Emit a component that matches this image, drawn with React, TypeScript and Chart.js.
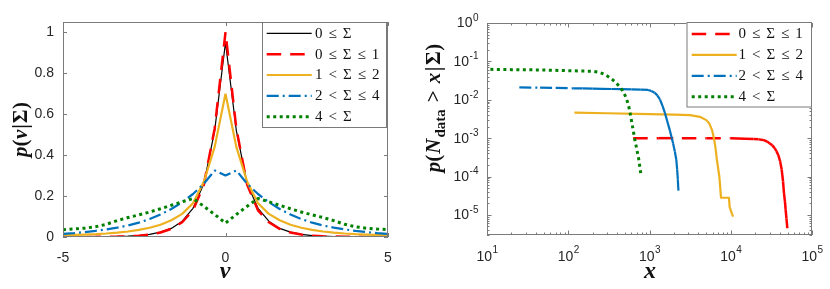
import React, { useEffect, useRef } from 'react';
import { Chart, registerables } from 'chart.js';
Chart.register(...registerables);

// ---------- Left panel data: p(nu | Sigma) ----------
const NU = [-5, -4.667, -4.333, -4, -3.667, -3.333, -3, -2.667, -2.333, -2, -1.667, -1.333, -1, -0.667, -0.333, 0, 0.333, 0.667, 1, 1.333, 1.667, 2, 2.333, 2.667, 3, 3.333, 3.667, 4, 4.333, 4.667, 5];
const P_ALL = [0.0004, 0.0005, 0.0007, 0.001, 0.0015, 0.0025, 0.004, 0.007, 0.013, 0.024, 0.042, 0.077, 0.14, 0.26, 0.52, 0.95, 0.52, 0.26, 0.14, 0.077, 0.042, 0.024, 0.013, 0.007, 0.004, 0.0025, 0.0015, 0.001, 0.0007, 0.0005, 0.0004];
const P_S01 = [0.0002, 0.0003, 0.0005, 0.0008, 0.0012, 0.002, 0.0035, 0.0065, 0.012, 0.022, 0.04, 0.072, 0.13, 0.255, 0.53, 1.0, 0.53, 0.255, 0.13, 0.072, 0.04, 0.022, 0.012, 0.0065, 0.0035, 0.002, 0.0012, 0.0008, 0.0005, 0.0003, 0.0002];
const P_S12 = [0.008, 0.01, 0.012, 0.014, 0.017, 0.021, 0.027, 0.035, 0.045, 0.06, 0.082, 0.113, 0.165, 0.27, 0.44, 0.70, 0.44, 0.27, 0.165, 0.113, 0.082, 0.06, 0.045, 0.035, 0.027, 0.021, 0.017, 0.014, 0.012, 0.01, 0.008];
const P_S24 = [0.015, 0.019, 0.024, 0.03, 0.037, 0.046, 0.056, 0.07, 0.088, 0.11, 0.137, 0.17, 0.21, 0.26, 0.325, 0.30, 0.325, 0.26, 0.21, 0.17, 0.137, 0.11, 0.088, 0.07, 0.056, 0.046, 0.037, 0.03, 0.024, 0.019, 0.015];
const P_S4 = [0.036, 0.039, 0.043, 0.05, 0.062, 0.08, 0.095, 0.108, 0.122, 0.138, 0.155, 0.172, 0.188, 0.15, 0.11, 0.068, 0.11, 0.15, 0.188, 0.172, 0.155, 0.138, 0.122, 0.108, 0.095, 0.08, 0.062, 0.05, 0.043, 0.039, 0.036];
const LEFT_X_TICKS = [-5, 0, 5];
const LEFT_Y_TICKS = [0, 0.2, 0.4, 0.6, 0.8, 1];

// ---------- Right panel data: p(N_data > x | Sigma) ----------
const RED_X = [630, 1300, 2500, 5000, 10000, 15000, 19000, 22000, 25000, 28000, 30000, 32500, 34700, 36500, 38500, 40500, 42400, 44000, 45200, 46500, 47400, 48500, 49700];
const RED_Y = [1.0e-3, 1.0e-3, 1.0e-3, 1.0e-3, 0.99e-3, 0.97e-3, 0.95e-3, 0.93e-3, 0.9e-3, 0.82e-3, 0.74e-3, 0.65e-3, 0.55e-3, 0.46e-3, 0.36e-3, 0.25e-3, 0.15e-3, 0.075e-3, 0.037e-3, 0.022e-3, 0.0135e-3, 0.008e-3, 0.0045e-3];
const ORANGE_X = [119, 300, 1000, 2000, 3160, 4170, 5010, 5450, 5890, 6200, 6460, 6760, 7240, 7590, 9500, 9700, 10300, 10700];
const ORANGE_Y = [4.6e-3, 4.45e-3, 4.25e-3, 4.1e-3, 4.0e-3, 3.6e-3, 2.95e-3, 2.4e-3, 1.62e-3, 1.0e-3, 6e-4, 2.7e-4, 1.0e-4, 2.8e-5, 2.8e-5, 1.6e-5, 1.1e-5, 9e-6];
const BLUE_X = [25, 45, 70, 115, 150, 200, 260, 340, 450, 600, 780, 960, 1050, 1150, 1250, 1350, 1450, 1550, 1650, 1780, 1880, 1950, 2050, 2140, 2190, 2230, 2270];
const BLUE_Y = [0.021, 0.0207, 0.0203, 0.0199, 0.0197, 0.0195, 0.0193, 0.0191, 0.0189, 0.0187, 0.0184, 0.018, 0.017, 0.0155, 0.013, 0.010, 0.0068, 0.0045, 0.0028, 0.0016, 0.0010, 0.00074, 0.00045, 0.00027, 0.00015, 0.000085, 0.000043];
const GREEN_X = [11, 20, 40, 80, 150, 200, 240, 280, 330, 380, 420, 460, 500, 530, 560, 590, 630, 660, 700, 740, 780];
const GREEN_Y = [0.062, 0.061, 0.06, 0.058, 0.056, 0.055, 0.052, 0.046, 0.037, 0.029, 0.023, 0.018, 0.013, 0.0095, 0.0062, 0.0035, 0.0016, 0.0009, 0.0005, 0.00027, 0.00012];
const RIGHT_X_EXPS = [1, 2, 3, 4, 5];
const RIGHT_Y_EXPS = [0, -1, -2, -3, -4, -5];

const LABELS_LEFT = ['0 ≤ Σ', '0 ≤ Σ ≤ 1', '1 < Σ ≤ 2', '2 < Σ ≤ 4', '4 < Σ'];
const LABELS_RIGHT = ['0 ≤ Σ ≤ 1', '1 < Σ ≤ 2', '2 < Σ ≤ 4', '4 < Σ'];

const C_BLACK = '#000000';
const C_RED = '#ff0000';
const C_ORANGE = '#EDB120';
const C_BLUE = '#0072BD';
const C_GREEN = '#008000';
const AXIS_COLOR = '#7a7a7a';
const TEXT_COLOR = '#262626';
const SANS = '"Liberation Sans", Arial, sans-serif';
const SERIF = '"Liberation Serif", "Times New Roman", serif';

const pts = (xs: number[], ys: number[]) => xs.map((x, i) => ({ x, y: ys[i] }));

type Run = { t: string; font: string; dy?: number; after?: number };

function drawRich(ctx: CanvasRenderingContext2D, runs: Run[], cx: number, cy: number, rot: boolean) {
  ctx.save();
  ctx.translate(cx, cy);
  if (rot) ctx.rotate(-Math.PI / 2);
  ctx.textAlign = 'left';
  ctx.textBaseline = 'alphabetic';
  ctx.fillStyle = '#111';
  let total = 0;
  const ws = runs.map((r) => {
    ctx.font = r.font;
    const w = ctx.measureText(r.t).width + (r.after || 0);
    total += w;
    return w;
  });
  let x = -total / 2;
  runs.forEach((r, i) => {
    ctx.font = r.font;
    ctx.fillText(r.t, x, r.dy || 0);
    x += ws[i];
  });
  ctx.restore();
}

function drawFrame(ctx: CanvasRenderingContext2D, a: any) {
  ctx.save();
  ctx.strokeStyle = AXIS_COLOR;
  ctx.lineWidth = 1;
  ctx.setLineDash([]);
  ctx.strokeRect(a.left + 0.5, a.top + 0.5, a.right - a.left - 1, a.bottom - a.top - 1);
  ctx.restore();
}

function tickX(ctx: CanvasRenderingContext2D, a: any, px: number, len: number) {
  const x = Math.round(px) + 0.5;
  ctx.beginPath();
  ctx.moveTo(x, a.bottom);
  ctx.lineTo(x, a.bottom - len);
  ctx.moveTo(x, a.top);
  ctx.lineTo(x, a.top + len);
  ctx.stroke();
}
function tickY(ctx: CanvasRenderingContext2D, a: any, py: number, len: number) {
  const y = Math.round(py) + 0.5;
  ctx.beginPath();
  ctx.moveTo(a.left, y);
  ctx.lineTo(a.left + len, y);
  ctx.moveTo(a.right, y);
  ctx.lineTo(a.right - len, y);
  ctx.stroke();
}

type LegendBox = { x0: number; y0: number; x1: number; y1: number; rowY0: number; rowStep: number; lx0: number; lx1: number; tx: number; labels: string[] };

function drawLegend(ctx: CanvasRenderingContext2D, chart: any, L: LegendBox) {
  ctx.save();
  ctx.fillStyle = '#fff';
  ctx.fillRect(L.x0, L.y0, L.x1 - L.x0, L.y1 - L.y0);
  ctx.strokeStyle = AXIS_COLOR;
  ctx.lineWidth = 1;
  ctx.strokeRect(L.x0 + 0.5, L.y0 + 0.5, L.x1 - L.x0 - 1, L.y1 - L.y0 - 1);
  chart.data.datasets.forEach((ds: any, i: number) => {
    const y = L.rowY0 + i * L.rowStep;
    ctx.strokeStyle = ds.borderColor;
    ctx.lineWidth = ds.borderWidth;
    ctx.lineCap = 'butt';
    ctx.setLineDash(ds.borderDash || []);
    ctx.beginPath();
    ctx.moveTo(L.lx0, y);
    ctx.lineTo(L.lx1, y);
    ctx.stroke();
    ctx.setLineDash([]);
    ctx.fillStyle = '#111';
    ctx.font = `15px ${SERIF}`;
    ctx.textBaseline = 'middle';
    ctx.textAlign = 'left';
    let x = L.tx;
    L.labels[i].split(' ').forEach((tok) => {
      ctx.fillText(tok, x, y + 0.5);
      x += ctx.measureText(tok).width + 6;
    });
  });
  ctx.restore();
}

const BI = (s: number) => `italic bold ${s}px ${SERIF}`;
const B = (s: number) => `bold ${s}px ${SERIF}`;

const leftDecor = {
  id: 'leftDecor',
  afterDatasetsDraw(chart: any) {
    const ctx = chart.ctx as CanvasRenderingContext2D;
    const a = chart.chartArea;
    drawFrame(ctx, a);
    ctx.save();
    ctx.strokeStyle = AXIS_COLOR;
    ctx.lineWidth = 1;
    LEFT_X_TICKS.forEach((v) => tickX(ctx, a, chart.scales.x.getPixelForValue(v), 4));
    LEFT_Y_TICKS.forEach((v) => tickY(ctx, a, chart.scales.y.getPixelForValue(v), 4));
    ctx.restore();
    drawLegend(ctx, chart, { x0: 262, y0: 22, x1: 387, y1: 128, rowY0: 33.3, rowStep: 20.85, lx0: 266.7, lx1: 311.7, tx: 315, labels: LABELS_LEFT });
    drawRich(ctx, [
      { t: 'p', font: BI(21) }, { t: '(', font: B(21), after: 0.5 }, { t: 'ν', font: BI(21), after: 1 },
      { t: '|', font: B(21), after: 1 }, { t: 'Σ', font: B(21), after: 0.5 }, { t: ')', font: B(21) },
    ], 27, 129.5, true);
    drawRich(ctx, [{ t: 'ν', font: BI(24) }], 225, 278, false);
  },
};

const rightDecor = {
  id: 'rightDecor',
  afterDatasetsDraw(chart: any) {
    const ctx = chart.ctx as CanvasRenderingContext2D;
    const a = chart.chartArea;
    const xs = chart.scales.x;
    const ys = chart.scales.y;
    drawFrame(ctx, a);
    ctx.save();
    ctx.strokeStyle = AXIS_COLOR;
    ctx.lineWidth = 1;
    for (let k = 1; k <= 4; k++) {
      for (let m = 1; m <= 9; m++) {
        const v = m * Math.pow(10, k);
        tickX(ctx, a, xs.getPixelForValue(v), m === 1 ? 4.5 : 2.5);
      }
    }
    tickX(ctx, a, xs.getPixelForValue(1e5), 4.5);
    for (let k = -6; k <= -1; k++) {
      for (let m = 1; m <= 9; m++) {
        const v = m * Math.pow(10, k);
        if (v < ys.min || v > ys.max) continue;
        tickY(ctx, a, ys.getPixelForValue(v), m === 1 ? 4.5 : 2.5);
      }
    }
    tickY(ctx, a, ys.getPixelForValue(1), 4.5);
    ctx.restore();

    // tick labels 10^k
    ctx.save();
    ctx.fillStyle = TEXT_COLOR;
    ctx.textBaseline = 'middle';
    ctx.textAlign = 'left';
    const baseFont = `14px ${SANS}`;
    const expFont = `10px ${SANS}`;
    RIGHT_X_EXPS.forEach((e) => {
      const px = xs.getPixelForValue(Math.pow(10, e));
      ctx.font = baseFont;
      const w1 = ctx.measureText('10').width;
      ctx.font = expFont;
      const w2 = ctx.measureText(String(e)).width;
      const x0 = px - (w1 + w2) / 2;
      ctx.font = baseFont;
      ctx.fillText('10', x0, 257);
      ctx.font = expFont;
      ctx.fillText(String(e), x0 + w1 + 0.5, 250.5);
    });
    RIGHT_Y_EXPS.forEach((e) => {
      const py = ys.getPixelForValue(Math.pow(10, e));
      const s = String(e);
      ctx.font = expFont;
      const w2 = ctx.measureText(s).width;
      const right = a.left - 8.5;
      ctx.fillText(s, right - w2, py - 5);
      ctx.font = baseFont;
      const w1 = ctx.measureText('10').width;
      ctx.fillText('10', right - w2 - w1 - 0.5, py + 0.5);
    });
    ctx.restore();

    drawLegend(ctx, chart, { x0: 271.5, y0: 22, x1: a.right, y1: 107.5, rowY0: 34, rowStep: 20.9, lx0: 276.7, lx1: 321.7, tx: 323.5, labels: LABELS_RIGHT });
    drawRich(ctx, [
      { t: 'p', font: BI(21) }, { t: '(', font: B(21), after: 1 }, { t: 'N', font: BI(21), after: 1 },
      { t: 'data', font: B(15), dy: 5, after: 7 }, { t: '>', font: B(21), after: 7 },
      { t: 'x', font: BI(21), after: 1.5 }, { t: '|', font: B(21), after: 1.5 }, { t: 'Σ', font: B(21), after: 0.5 }, { t: ')', font: B(21) },
    ], 25, 108, true);
    drawRich(ctx, [{ t: 'x', font: BI(24) }], 650 - 415, 278, false);
  },
};

const restartDash = { borderDashOffset: (c: any) => (c.p0DataIndex % 2) * 0.001 };

function leftConfig(): any {
  return {
    type: 'line',
    data: {
      datasets: [
        { label: LABELS_LEFT[0], data: pts(NU, P_ALL), borderColor: C_BLACK, borderWidth: 1.2, order: 5 },
        { label: LABELS_LEFT[1], data: pts(NU, P_S01), borderColor: C_RED, borderWidth: 2.5, borderDash: [14.5, 9], order: 4 },
        { label: LABELS_LEFT[2], data: pts(NU, P_S12), borderColor: C_ORANGE, borderWidth: 2.2, order: 3 },
        { label: LABELS_LEFT[3], data: pts(NU, P_S24), borderColor: C_BLUE, borderWidth: 2.2, borderDash: [12, 4, 2, 4], order: 2 },
        { label: LABELS_LEFT[4], data: pts(NU, P_S4), borderColor: C_GREEN, borderWidth: 3, borderDash: [3, 3.5], order: 1 },
      ],
    },
    options: {
      responsive: false,
      animation: false,
      events: [],
      layout: { padding: { left: 0, top: 22, right: 27, bottom: 0 } },
      elements: { point: { radius: 0 }, line: { tension: 0, fill: false, borderCapStyle: 'butt', borderJoinStyle: 'bevel' } },
      plugins: { legend: { display: false }, tooltip: { enabled: false } },
      scales: {
        x: {
          type: 'linear', min: -5, max: 5,
          grid: { display: false, drawTicks: false }, border: { display: false },
          ticks: { font: { family: SANS, size: 14 }, color: TEXT_COLOR, padding: 13, maxRotation: 0 },
          afterBuildTicks: (s: any) => { s.ticks = LEFT_X_TICKS.map((v) => ({ value: v })); },
          afterFit: (s: any) => { s.height = 52; },
        },
        y: {
          type: 'linear', min: 0, max: 1.05,
          grid: { display: false, drawTicks: false }, border: { display: false },
          ticks: { font: { family: SANS, size: 14 }, color: TEXT_COLOR, padding: 9, callback: (v: number) => String(Math.round(v * 10) / 10) },
          afterBuildTicks: (s: any) => { s.ticks = LEFT_Y_TICKS.map((v) => ({ value: v })); },
          afterFit: (s: any) => { s.width = 63; },
        },
      },
    },
    plugins: [leftDecor],
  };
}

function rightConfig(): any {
  return {
    type: 'line',
    data: {
      datasets: [
        { label: LABELS_RIGHT[0], data: pts(RED_X, RED_Y), borderColor: C_RED, borderWidth: 2.5, borderDash: [14.5, 9], segment: restartDash, order: 4 },
        { label: LABELS_RIGHT[1], data: pts(ORANGE_X, ORANGE_Y), borderColor: C_ORANGE, borderWidth: 2.2, order: 3 },
        { label: LABELS_RIGHT[2], data: pts(BLUE_X, BLUE_Y), borderColor: C_BLUE, borderWidth: 2.2, borderDash: [12, 4, 2, 4], segment: restartDash, order: 2 },
        { label: LABELS_RIGHT[3], data: pts(GREEN_X, GREEN_Y), borderColor: C_GREEN, borderWidth: 3, borderDash: [3, 3.5], order: 1 },
      ],
    },
    options: {
      responsive: false,
      animation: false,
      events: [],
      layout: { padding: { left: 0, top: 23, right: 18, bottom: 0 } },
      elements: { point: { radius: 0 }, line: { tension: 0, fill: false, borderCapStyle: 'butt', borderJoinStyle: 'round' } },
      plugins: { legend: { display: false }, tooltip: { enabled: false } },
      scales: {
        x: {
          type: 'logarithmic', min: 10, max: 1e5,
          grid: { display: false, drawTicks: false }, border: { display: false },
          ticks: { display: false },
          afterFit: (s: any) => { s.height = 54; },
        },
        y: {
          type: 'logarithmic', min: 3e-6, max: 1,
          grid: { display: false, drawTicks: false }, border: { display: false },
          ticks: { display: false },
          afterFit: (s: any) => { s.width = 72; },
        },
      },
    },
    plugins: [rightDecor],
  };
}

export default function App() {
  const leftRef = useRef<HTMLCanvasElement>(null);
  const rightRef = useRef<HTMLCanvasElement>(null);
  useEffect(() => {
    const c1 = new Chart(leftRef.current as HTMLCanvasElement, leftConfig());
    const c2 = new Chart(rightRef.current as HTMLCanvasElement, rightConfig());
    return () => {
      c1.destroy();
      c2.destroy();
    };
  }, []);
  return (
    <div style={{ position: 'fixed', left: 0, top: 0, width: 830, height: 289, background: '#fff' }}>
      <canvas ref={leftRef} width={415} height={289} style={{ position: 'absolute', left: 0, top: 0, width: 415, height: 289 }} />
      <canvas ref={rightRef} width={415} height={289} style={{ position: 'absolute', left: 415, top: 0, width: 415, height: 289 }} />
    </div>
  );
}
